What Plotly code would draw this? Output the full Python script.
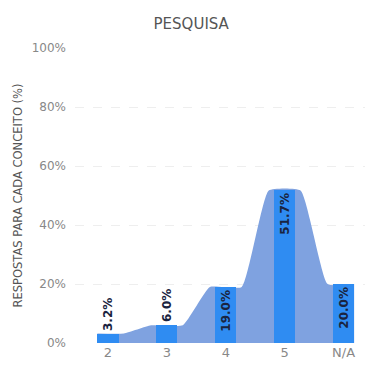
import plotly.graph_objects as go

categories = ["2", "3", "4", "5", "N/A"]
values = [3.2, 6.0, 19.0, 51.7, 20.0]
labels = ["3.2%", "6.0%", "19.0%", "51.7%", "20.0%"]
y_ticks = [0, 20, 40, 60, 80, 100]
y_tick_text = ["0%", "20%", "40%", "60%", "80%", "100%"]

bar_w = 0.36
plateau = 0.27
pos = list(range(len(categories)))

# smooth area: flat plateau around each category, spline transitions,
# clipped to the outer bar edges at both ends
ax, ay = [], []
n = len(pos)
for i, (p, v) in enumerate(zip(pos, values)):
    left = p - (bar_w / 2 if i == 0 else plateau)
    right = p + (bar_w / 2 if i == n - 1 else plateau)
    ax += [left, right]
    ay += [v, v]

xr = [-0.56, 4.5]
yr = [0, 100]
FONT = "DejaVu Sans, sans-serif"

fig = go.Figure()
fig.add_trace(go.Scatter(
    x=ax, y=ay, mode="lines", line=dict(shape="spline", smoothing=0.42, width=0, color="#7fa2e0"),
    fill="tozeroy", fillcolor="#7fa2e0", hoverinfo="skip", showlegend=False,
    xaxis="x", yaxis="y",
))
fig.add_trace(go.Bar(
    x=pos, y=values, width=bar_w, marker=dict(color="#2f8cf2", line=dict(width=0)),
    text=labels, textposition=["outside" if v < 10 else "inside" for v in values],
    insidetextanchor="end", textangle=-90, constraintext="none", cliponaxis=False,
    textfont=dict(family=FONT, size=12, color="#1a2440", weight="bold"),
    showlegend=False, xaxis="x2", yaxis="y2",
))

fig.update_layout(
    width=373, height=367,
    margin=dict(l=67, r=8, t=40, b=32),
    paper_bgcolor="white", plot_bgcolor="white",
    title=dict(text="PESQUISA", xref="paper", x=0.39, xanchor="center",
               yref="container", y=0.958, yanchor="middle",
               font=dict(family=FONT, size=15, color="#555555")),
    font=dict(family=FONT, color="#777777"),
    bargap=0,
    xaxis=dict(
        tickmode="array", tickvals=pos, ticktext=categories, range=xr,
        showgrid=False, zeroline=False, showline=False,
        tickfont=dict(size=13, color="#888888"), ticks="",
    ),
    yaxis=dict(
        range=yr, tickmode="array", tickvals=y_ticks, ticktext=y_tick_text,
        showgrid=True, gridcolor="#eeeeee", griddash="dash", gridwidth=1, zeroline=False,
        tickfont=dict(size=12, color="#888888"), automargin=False, ticklabelstandoff=8,
        title=dict(text="RESPOSTAS PARA CADA CONCEITO (%)",
                   font=dict(size=11.5, color="#555555"), standoff=6),
    ),
    xaxis2=dict(overlaying="x", range=xr, visible=False),
    yaxis2=dict(overlaying="y", range=yr, visible=False),
)
fig.write_html("out.html")
